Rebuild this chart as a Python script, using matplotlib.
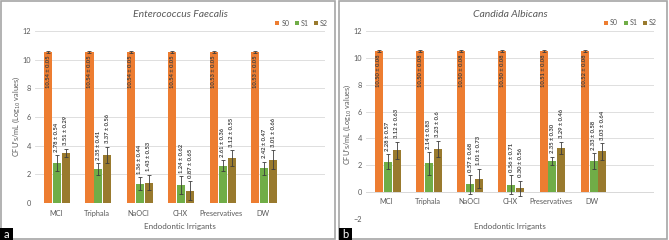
import numpy as np
import matplotlib
matplotlib.use('Agg')
from matplotlib import pyplot as plt
from matplotlib.patches import Rectangle

plt.rcParams['font.family'] = ['Lato', 'DejaVu Sans']

irrigants = ['MCI', 'Triphala', 'NaOCl', 'CHX', 'Preservatives', 'DW']
series = ['S0', 'S1', 'S2']

# Enterococcus faecalis
ef_s0 = [10.54, 10.54, 10.54, 10.54, 10.53, 10.53]
ef_s0_sd = [0.05, 0.05, 0.05, 0.05, 0.05, 0.05]
ef_s1 = [2.78, 2.35, 1.36, 1.24, 2.61, 2.42]
ef_s1_sd = [0.54, 0.41, 0.44, 0.62, 0.36, 0.47]
ef_s2 = [3.51, 3.37, 1.43, 0.87, 3.12, 3.01]
ef_s2_sd = [0.29, 0.56, 0.53, 0.65, 0.55, 0.66]

# Candida albicans
ca_s0 = [10.50, 10.50, 10.50, 10.50, 10.51, 10.52]
ca_s0_sd = [0.08, 0.08, 0.08, 0.08, 0.08, 0.08]
ca_s1 = [2.28, 2.14, 0.57, 0.56, 2.35, 2.33]
ca_s1_sd = [0.57, 0.83, 0.68, 0.71, 0.30, 0.58]
ca_s2 = [3.12, 3.23, 1.01, 0.30, 3.29, 3.03]
ca_s2_sd = [0.63, 0.6, 0.73, 0.56, 0.46, 0.64]
ca_s2_sd_txt = ['0.63', '0.6', '0.73', '0.56', '0.46', '0.64']

colors = ['#ED7D31', '#70AD47', '#997A2E']
txt_gray = '#595959'
grid_gray = '#D9D9D9'


def fmt(vals, sds, sd_txt=None):
    if sd_txt is None:
        sd_txt = ['%.2f' % s for s in sds]
    return ['%.2f \u00b1 %s' % (v, s) for v, s in zip(vals, sd_txt)]


def draw(ax, title, data, ylim):
    x = np.arange(len(irrigants))
    width = 0.195
    offsets = [-0.185, 0.03, 0.245]
    for k, (vals, sds, labels) in enumerate(data):
        pos = x + offsets[k]
        ax.bar(pos, vals, width, color=colors[k], label=series[k], zorder=2)
        ax.errorbar(pos, vals, yerr=sds, fmt='none', ecolor='#3d3d3d',
                    elinewidth=0.6, capsize=1.4, capthick=0.6, zorder=3)
        for p, v, s, t in zip(pos, vals, sds, labels):
            if k == 0:
                ax.text(p, v - 0.25, t, rotation=90, ha='center', va='top',
                        fontsize=4.2, fontweight='bold', color='#404040', zorder=4)
            else:
                ax.text(p, v + s + 0.25, t, rotation=90, ha='center', va='bottom',
                        fontsize=4.2, fontweight='bold', color='#404040', zorder=4)
    ax.set_xlim(-0.5, 6.5)
    ax.set_ylim(*ylim)
    ax.set_yticks(np.arange(ylim[0], ylim[1] + 1, 2))
    ax.set_xticks(x)
    ax.set_xticklabels(irrigants)
    ax.tick_params(axis='both', length=0, labelsize=5.3, colors=txt_gray, pad=3)
    ax.tick_params(axis='x', pad=5)
    ax.grid(axis='y', color=grid_gray, linewidth=0.6, zorder=0)
    for sp in ax.spines.values():
        sp.set_visible(False)
    ax.axhline(0, color=grid_gray, linewidth=0.6, zorder=1)
    ax.set_title(title, fontsize=7.5, style='italic', color=txt_gray, pad=10)
    ax.set_xlabel('Endodontic Irrigants', fontsize=5.8, color=txt_gray, labelpad=4)
    ax.set_ylabel("CFU's/mL (Log$_{10}$ values)", fontsize=5.3, color=txt_gray, labelpad=0)
    ax.legend(loc='lower right', bbox_to_anchor=(1.02, 1.01), ncol=3, frameon=False,
              fontsize=5, handlelength=0.55, handleheight=0.55, handletextpad=0.3,
              columnspacing=0.8, labelcolor=txt_gray, borderaxespad=0)


fig = plt.figure(figsize=(6.69, 2.4), dpi=100)
W, H = 669.0, 240.0

ax1 = fig.add_axes([35 / W, 1 - 203 / H, 290 / W, 172 / H])
draw(ax1, 'Enterococcus Faecalis',
     [(ef_s0, ef_s0_sd, fmt(ef_s0, ef_s0_sd)),
      (ef_s1, ef_s1_sd, fmt(ef_s1, ef_s1_sd)),
      (ef_s2, ef_s2_sd, fmt(ef_s2, ef_s2_sd))], (0, 12))

ax2 = fig.add_axes([366 / W, 1 - 219 / H, 288 / W, 188 / H])
draw(ax2, 'Candida Albicans',
     [(ca_s0, ca_s0_sd, fmt(ca_s0, ca_s0_sd)),
      (ca_s1, ca_s1_sd, fmt(ca_s1, ca_s1_sd)),
      (ca_s2, ca_s2_sd, fmt(ca_s2, ca_s2_sd, ca_s2_sd_txt))], (-2, 12))
ax2.xaxis.set_tick_params(pad=-15)
ax2.get_xaxis().set_label_coords(0.5, -0.02)

# panel frames
for x0, x1 in [(1, 335), (339, 667)]:
    fig.add_artist(Rectangle((x0 / W, 1 / H), (x1 - x0) / W, 238 / H,
                             transform=fig.transFigure, fill=False,
                             edgecolor='#A6A6A6', linewidth=1.2))

# panel letters
for x0, letter in [(0, 'a'), (339, 'b')]:
    fig.add_artist(Rectangle((x0 / W, 0), 13 / W, 12 / H, transform=fig.transFigure,
                             facecolor='black', edgecolor='none'))
    fig.text((x0 + 6.5) / W, 6 / H, letter, color='white', fontsize=8,
             ha='center', va='center')

fig.savefig('out.png', dpi=100)
